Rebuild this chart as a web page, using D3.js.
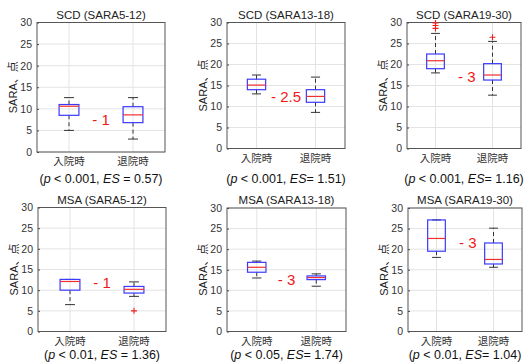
<!DOCTYPE html>
<html>
<head>
<meta charset="utf-8">
<script src="https://cdn.jsdelivr.net/npm/d3@7"></script>
<style>
  body { margin: 0; background: #fff; }
  svg { display: block; font-family: "Liberation Sans", Arial, "Noto Sans CJK JP", sans-serif; }
</style>
</head>
<body>
<div class="boxes"></div>
<script>
// data
const panelTitles = ["SCD (SARA5-12)", "SCD (SARA13-18)", "SCD (SARA19-30)",
                     "MSA (SARA5-12)", "MSA (SARA13-18)", "MSA (SARA19-30)"];
const groups = ["入院時", "退院時"];
const yTicks = [0, 5, 10, 15, 20, 25, 30];
const yLabel = "SARA、点";

// per panel: [入院時, 退院時]
const lowWhisker  = [[5.0, 3.0], [13.0, 8.6], [18.0, 12.7], [6.5, 8.5], [13.0, 11.0], [18.0, 15.6]];
const q1Values    = [[8.5, 6.8], [14.0, 11.0], [19.0, 16.3], [10.0, 9.3], [14.4, 12.6], [19.5, 16.4]];
const medianValues= [[10.6, 8.6], [15.1, 12.4], [20.9, 17.5], [12.1, 10.2], [15.6, 13.1], [22.6, 17.5]];
const q3Values    = [[11.0, 10.5], [16.5, 14.0], [22.5, 20.2], [12.6, 10.9], [16.8, 13.5], [27.1, 21.5]];
const highWhisker = [[12.6, 12.6], [17.5, 17.0], [27.4, 25.5], [12.6, 12.0], [17.1, 14.0], [27.1, 25.1]];
const outlierValues = [[[], []], [[], []], [[28.6, 29.3, 29.9], [26.5]],
                       [[], [5.0]], [[], []], [[], []]];

const diffLabels = ["- 1", "- 2.5", "- 3", "- 1", "- 3", "- 3"];
const diffX = [1.5, 1.5, 1.55, 1.5, 1.5, 1.55];
const diffY = [7.5, 12.3, 17.1, 11.7, 12.6, 21.6];
const pValues = ["0.001", "0.001", "0.001", "0.01", "0.05", "0.01"];
const esSep = [" = ", "= ", "= ", " = ", "= ", "= "];
const esValues = ["0.57", "1.51", "1.16", "1.36", "1.74", "1.04"];

// panel frames in pixels (layout only)
const frames = [
    {x0: 37,  x1: 165, top: 22.5, bot: 152},
    {x0: 227, x1: 345, top: 22.5, bot: 148.5},
    {x0: 407, x1: 521, top: 22.5, bot: 148.5},
    {x0: 38,  x1: 166, top: 207.5, bot: 331.5},
    {x0: 227, x1: 346, top: 208, bot: 331.5},
    {x0: 408, x1: 522, top: 208, bot: 331.5}
];

const boxWidth = 0.31; // in x units
const svg = d3.select(".boxes").append("svg")
    .attr("width", 527)
    .attr("height", 364);

frames.forEach(function (f, p) {
    const x = d3.scaleLinear().domain([0.5, 2.5]).range([f.x0, f.x1]);
    const y = d3.scaleLinear().domain([0, 30]).range([f.bot, f.top]);
    const g = svg.append("g");

    //grid
    g.selectAll(".hgrid").data(yTicks).enter().append("line")
        .attr("x1", f.x0).attr("x2", f.x1)
        .attr("y1", d => y(d)).attr("y2", d => y(d))
        .attr("stroke", "#e3e3e3");
    g.selectAll(".vgrid").data([1, 2]).enter().append("line")
        .attr("x1", d => x(d)).attr("x2", d => x(d))
        .attr("y1", f.top).attr("y2", f.bot)
        .attr("stroke", "#e3e3e3");

    //y axis labels
    const yAxis = g.append("g")
        .attr("transform", "translate(" + f.x0 + ",0)")
        .call(d3.axisLeft(y).tickValues(yTicks).tickSize(-2).tickPadding(5));
    yAxis.select(".domain").remove();
    yAxis.selectAll("line").attr("stroke", "#444");
    yAxis.selectAll("text")
        .attr("fill", "#333")
        .style("font-size", "10.5px")
        .style("font-family", "'Liberation Sans', Arial, sans-serif");

    //x category labels
    g.selectAll(".cat").data(groups).enter().append("text")
        .attr("x", (d, i) => x(i + 1))
        .attr("y", f.bot + 13)
        .attr("text-anchor", "middle")
        .attr("fill", "#333")
        .style("font-size", "10.5px")
        .style("font-family", "'Noto Sans CJK JP', sans-serif")
        .text(d => d);

    //frame
    g.append("rect")
        .attr("x", f.x0).attr("y", f.top)
        .attr("width", f.x1 - f.x0).attr("height", f.bot - f.top)
        .attr("fill", "none")
        .attr("stroke", "#555");

    //title
    g.append("text")
        .attr("x", (f.x0 + f.x1) / 2)
        .attr("y", f.top - 4)
        .attr("text-anchor", "middle")
        .attr("fill", "#222")
        .style("font-size", "11.5px")
        .text(panelTitles[p]);

    //y label
    g.append("text")
        .attr("transform", "translate(" + (f.x0 - 20) + "," + ((f.top + f.bot) / 2) + ") rotate(-90)")
        .attr("text-anchor", "middle")
        .attr("fill", "#222")
        .style("font-size", "11px")
        .style("font-family", "'Liberation Sans', 'Noto Sans CJK JP', sans-serif")
        .text(yLabel);

    //boxes
    const stats = groups.map(function (name, i) {
        return {pos: i + 1, lo: lowWhisker[p][i], q1: q1Values[p][i], med: medianValues[p][i],
                q3: q3Values[p][i], hi: highWhisker[p][i], out: outlierValues[p][i]};
    });
    const bx = g.selectAll(".box").data(stats).enter().append("g");

    // whiskers (dashed)
    bx.append("line")
        .attr("x1", d => x(d.pos)).attr("x2", d => x(d.pos))
        .attr("y1", d => y(d.q3)).attr("y2", d => y(d.hi))
        .attr("stroke", "#333").attr("stroke-dasharray", "4,3");
    bx.append("line")
        .attr("x1", d => x(d.pos)).attr("x2", d => x(d.pos))
        .attr("y1", d => y(d.q1)).attr("y2", d => y(d.lo))
        .attr("stroke", "#333").attr("stroke-dasharray", "4,3");
    // caps
    ["hi", "lo"].forEach(function (k) {
        bx.append("line")
            .attr("x1", d => x(d.pos - boxWidth / 4)).attr("x2", d => x(d.pos + boxWidth / 4))
            .attr("y1", d => y(d[k])).attr("y2", d => y(d[k]))
            .attr("stroke", "#333");
    });
    // box
    bx.append("rect")
        .attr("x", d => x(d.pos - boxWidth / 2))
        .attr("width", d => x(d.pos + boxWidth / 2) - x(d.pos - boxWidth / 2))
        .attr("y", d => y(d.q3))
        .attr("height", d => y(d.q1) - y(d.q3))
        .attr("fill", "none")
        .attr("stroke", "#3a3aff")
        .attr("stroke-width", 1.2);
    // median
    bx.append("line")
        .attr("x1", d => x(d.pos - boxWidth / 2)).attr("x2", d => x(d.pos + boxWidth / 2))
        .attr("y1", d => y(d.med)).attr("y2", d => y(d.med))
        .attr("stroke", "#f03030")
        .attr("stroke-width", 1.2);
    // outliers
    bx.each(function (d) {
        d3.select(this).selectAll(".out").data(d.out).enter().append("path")
            .attr("transform", v => "translate(" + x(d.pos) + "," + y(v) + ")")
            .attr("d", "M-3,0H3M0,-3V3")
            .attr("stroke", "#f02020")
            .attr("stroke-width", 1.1);
    });

    //difference label
    g.append("text")
        .attr("x", x(diffX[p]))
        .attr("y", y(diffY[p]))
        .attr("dy", "0.35em")
        .attr("text-anchor", "middle")
        .attr("fill", "#f01818")
        .style("font-size", "15px")
        .text(diffLabels[p]);

    //p value / effect size
    const pt = g.append("text")
        .attr("x", (f.x0 + f.x1) / 2)
        .attr("y", p < 3 ? 183 : 359)
        .attr("text-anchor", "middle")
        .attr("fill", "#111")
        .style("font-size", "12.5px");
    pt.append("tspan").text("(");
    pt.append("tspan").style("font-style", "italic").text("p");
    pt.append("tspan").text(" < " + pValues[p] + ", ");
    pt.append("tspan").style("font-style", "italic").text("ES");
    pt.append("tspan").text(esSep[p] + esValues[p] + ")");
});
</script>
</body>
</html>
